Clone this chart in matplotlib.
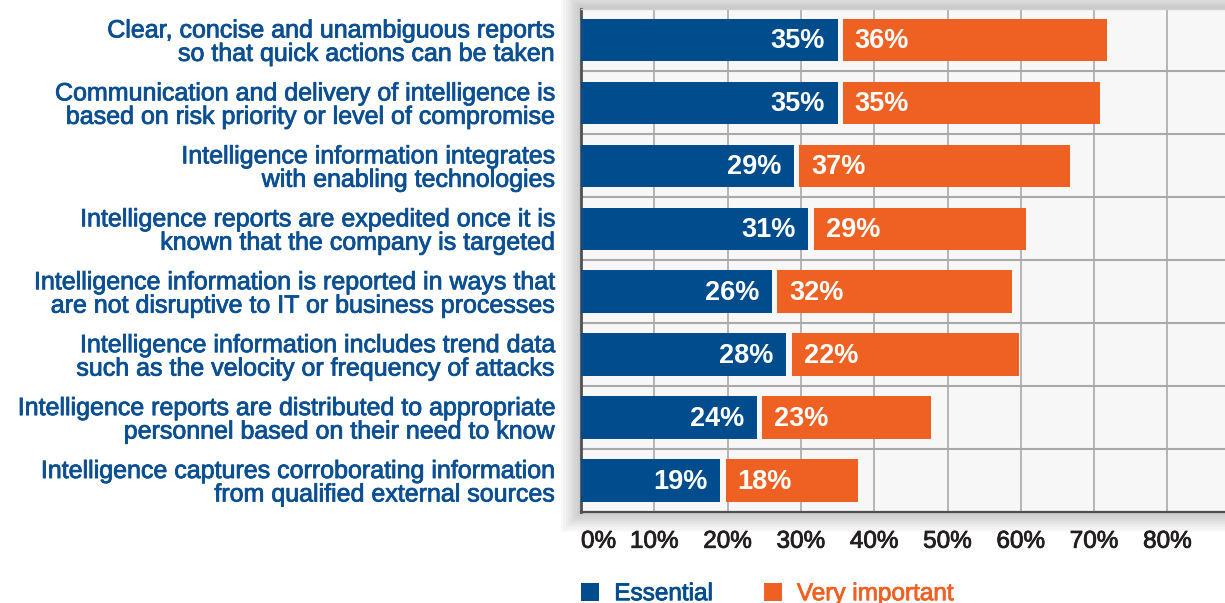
import matplotlib
matplotlib.use("Agg")
import matplotlib.pyplot as plt
import matplotlib.patheffects as pe
from matplotlib.patches import Rectangle
import numpy as np

# ---------------- data ----------------
categories = [
    "Clear, concise and unambiguous reports\nso that quick actions can be taken",
    "Communication and delivery of intelligence is\nbased on risk priority or level of compromise",
    "Intelligence information integrates\nwith enabling technologies",
    "Intelligence reports are expedited once it is\nknown that the company is targeted",
    "Intelligence information is reported in ways that\nare not disruptive to IT or business processes",
    "Intelligence information includes trend data\nsuch as the velocity or frequency of attacks",
    "Intelligence reports are distributed to appropriate\npersonnel based on their need to know",
    "Intelligence captures corroborating information\nfrom qualified external sources",
]
essential = [35, 35, 29, 31, 26, 28, 24, 19]
very_important = [36, 35, 37, 29, 32, 22, 23, 18]
# bar lengths as drawn in the source graphic (the "22%" bar is drawn ~31% long there)
very_important_drawn = [36, 35, 37, 29, 32, 31, 23, 18]
series_names = ["Essential", "Very important"]
xticks = [0, 10, 20, 30, 40, 50, 60, 70, 80]
xtick_labels = ["0%", "10%", "20%", "30%", "40%", "50%", "60%", "70%", "80%"]

# ---------------- style ----------------
BLUE = "#004c8d"
ORANGE = "#ef6123"
LABEL_BLUE = "#0b4f93"
TICK_COLOR = "#231f20"

plt.rcParams["font.family"] = ["Liberation Sans", "DejaVu Sans"]

W, H = 1225, 603
fig = plt.figure(figsize=(W / 100, H / 100), dpi=100)
fig.patch.set_facecolor("white")

ppx = 7.33          # pixels per percent on the x axis
xmax = 90
ax_l_px, ax_t_px, ax_b_px = 581, 8.5, 512
ax_w_px = xmax * ppx
ax = fig.add_axes([ax_l_px / W, (H - ax_b_px) / H, ax_w_px / W, (ax_b_px - ax_t_px) / H])

# soft drop shadow behind the panel
for k in range(1, 10):
    d = 2.2 * k
    fig.patches.append(Rectangle(((ax_l_px - d) / W, (H - ax_b_px - d) / H),
                                 (ax_w_px + 2 * d) / W, (ax_b_px - ax_t_px + 2 * d) / H,
                                 transform=fig.transFigure, facecolor="black",
                                 edgecolor="none", alpha=0.022, zorder=-10))

ax.set_facecolor("#f7f7f7")
n = len(categories)
y = np.arange(n)
bar_h = 0.675
gap = 0.75

b1 = ax.barh(y, essential, height=bar_h, color=BLUE, zorder=3)
left2 = np.array(essential) + gap
b2 = ax.barh(y, very_important_drawn, left=left2, height=bar_h, color=ORANGE, zorder=3)

for yi, e, v, l in zip(y, essential, very_important, left2):
    ax.annotate(f"{e}%", xy=(e, yi), xytext=(-9, -1), textcoords="offset points",
                ha="right", va="center", color="white", fontsize=19.5,
                fontweight="bold", zorder=4)
    ax.annotate(f"{v}%", xy=(l, yi), xytext=(8.5, -1), textcoords="offset points",
                ha="left", va="center", color="white", fontsize=19.5,
                fontweight="bold", zorder=4)

ax.set_xlim(0, xmax)
ax.set_ylim(n - 0.5, -0.5)

ax.set_xticks(xticks)
ax.set_xticklabels(xtick_labels, fontsize=17.5, color=TICK_COLOR)
ax.get_xticklabels()[0].set_ha("left")
for t in ax.get_xticklabels():
    t.set_path_effects([pe.withStroke(linewidth=0.6, foreground=TICK_COLOR)])
ax.set_yticks(y)
ax.set_yticklabels(categories, fontsize=18, color=LABEL_BLUE)
for t in ax.get_yticklabels():
    t.set_linespacing(0.97)
    t.set_path_effects([pe.withStroke(linewidth=0.6, foreground=LABEL_BLUE)])
ax.set_yticks(y[:-1] + 0.5, minor=True)

ax.tick_params(axis="x", length=0, pad=13.5)
ax.tick_params(axis="y", which="both", length=0, pad=19)
ax.xaxis.grid(True, color="#a9a9a9", lw=1.2, zorder=0)
ax.yaxis.grid(True, which="minor", color="#a9a9a9", lw=1.5, zorder=0)
ax.yaxis.grid(False, which="major")
ax.set_axisbelow(True)

ax.spines["left"].set_color("#505050")
ax.spines["left"].set_linewidth(2)
ax.spines["bottom"].set_color("#505050")
ax.spines["bottom"].set_linewidth(1.6)
ax.spines["top"].set_color("#d0d0d0")
ax.spines["top"].set_linewidth(1)
ax.spines["right"].set_visible(False)

leg = fig.legend(handles=[b1, b2], labels=series_names, loc="center left",
                 bbox_to_anchor=(581 / W, (H - 594) / H), ncol=2, frameon=False,
                 fontsize=17.5, handlelength=0.75, handleheight=0.75,
                 handletextpad=0.62, columnspacing=2.1, borderpad=0, borderaxespad=0)
for t, c in zip(leg.get_texts(), [BLUE, ORANGE]):
    t.set_color(c)
    t.set_path_effects([pe.withStroke(linewidth=0.6, foreground=c)])

fig.savefig("out.png", dpi=100, facecolor="white")
